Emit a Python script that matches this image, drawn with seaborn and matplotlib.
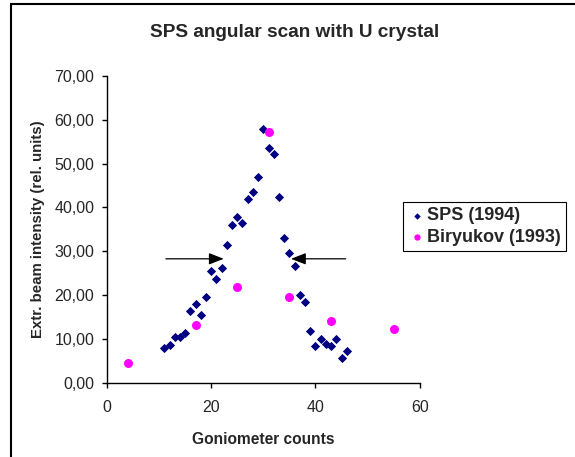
import matplotlib
matplotlib.use('Agg')
import matplotlib.pyplot as plt
import matplotlib.ticker as mticker
from matplotlib.patches import Rectangle
import pandas as pd
import seaborn as sns

# SPS (1994) data: goniometer counts vs beam intensity
sps_x = [11, 12, 13, 14, 15, 16, 17, 18, 19, 20, 21, 22, 23, 24, 25, 26, 27, 28,
         29, 30, 31, 32, 33, 34, 35, 36, 37, 38, 39, 40, 41, 42, 43, 44, 45, 46]
sps_y = [8.0, 8.7, 10.5, 10.5, 11.4, 16.4, 17.9, 15.4, 19.5, 25.6, 23.8, 26.2,
         31.4, 35.9, 37.9, 36.4, 42.0, 43.6, 46.9, 57.8, 53.5, 52.2, 42.3, 33.1,
         29.6, 26.7, 20.0, 18.4, 11.9, 8.5, 10.1, 8.9, 8.5, 10.1, 5.6, 7.4]

# Biryukov (1993)
bir_x = [4, 17, 25, 31, 35, 43, 55]
bir_y = [4.6, 13.2, 21.8, 57.1, 19.7, 14.2, 12.4]

# FWHM arrows (tail x, head x, level)
arrow_left = (11.3, 22.4)
arrow_right = (45.8, 35.3)
arrow_level = 28.3

sps = pd.DataFrame({'x': sps_x, 'y': sps_y})
bir = pd.DataFrame({'x': bir_x, 'y': bir_y})

sns.set_style('white')
plt.rcParams['font.family'] = ['Liberation Sans', 'DejaVu Sans']

fig = plt.figure(figsize=(5.75, 4.57), dpi=100)
ax = fig.add_axes([0.186, 0.162, 0.544, 0.672])

sns.scatterplot(x='x', y='y', data=sps, marker='D', s=22, color='#000080',
                edgecolor='#000080', linewidth=0, label='SPS (1994)', ax=ax, zorder=3)
sns.scatterplot(x='x', y='y', data=bir, marker='o', s=42, color='#FF00FF',
                edgecolor='#FF00FF', linewidth=0, label='Biryukov (1993)', ax=ax, zorder=3)

arrow_props = dict(arrowstyle='-|>,head_length=0.9,head_width=0.35', color='black', lw=0.9,
                   shrinkA=0, shrinkB=0)
ax.annotate('', xy=(arrow_left[1], arrow_level), xytext=(arrow_left[0], arrow_level),
            arrowprops=arrow_props)
ax.annotate('', xy=(arrow_right[1], arrow_level), xytext=(arrow_right[0], arrow_level),
            arrowprops=arrow_props)

ax.set_xlim(0, 60)
ax.set_ylim(0, 70)
ax.set_xticks([0, 20, 40, 60])
ax.set_yticks(range(0, 71, 10))
ax.yaxis.set_major_formatter(mticker.FuncFormatter(lambda v, p: f'{v:.2f}'.replace('.', ',')))

for side in ['top', 'right']:
    ax.spines[side].set_visible(False)
for side in ['left', 'bottom']:
    ax.spines[side].set_color('black')
    ax.spines[side].set_linewidth(1.0)
ax.tick_params(direction='out', length=3.6, width=1, color='black', labelsize=11.5,
               left=True, bottom=True)
ax.tick_params(axis='x', pad=9)
ax.tick_params(axis='y', pad=5.5)

ax.set_xlabel('Goniometer counts', fontsize=11.2, fontweight='bold', labelpad=12)
ax.set_ylabel('Extr. beam intensity (rel. units)', fontsize=10.8, fontweight='bold', labelpad=6.5)

fig.text(0.513, 0.928, 'SPS angular scan with U crystal', ha='center', va='center',
         fontsize=13.7, fontweight='bold')

leg = ax.legend(loc='upper left', bbox_to_anchor=(0.701, 0.558), bbox_transform=fig.transFigure,
                frameon=True, fancybox=False, edgecolor='black', framealpha=1,
                prop={'weight': 'bold', 'size': 13}, handletextpad=0.1, handlelength=0.9,
                borderpad=0.3, labelspacing=0.25, markerscale=0.7, borderaxespad=0)
leg.get_frame().set_linewidth(0.8)

# outer chart border
fig.patches.append(Rectangle((11 / 575, -0.1), 1.2, (457 - 4) / 457 + 0.1,
                             transform=fig.transFigure, fill=False, edgecolor='black',
                             linewidth=1.5))

fig.savefig('out.png', dpi=100)
